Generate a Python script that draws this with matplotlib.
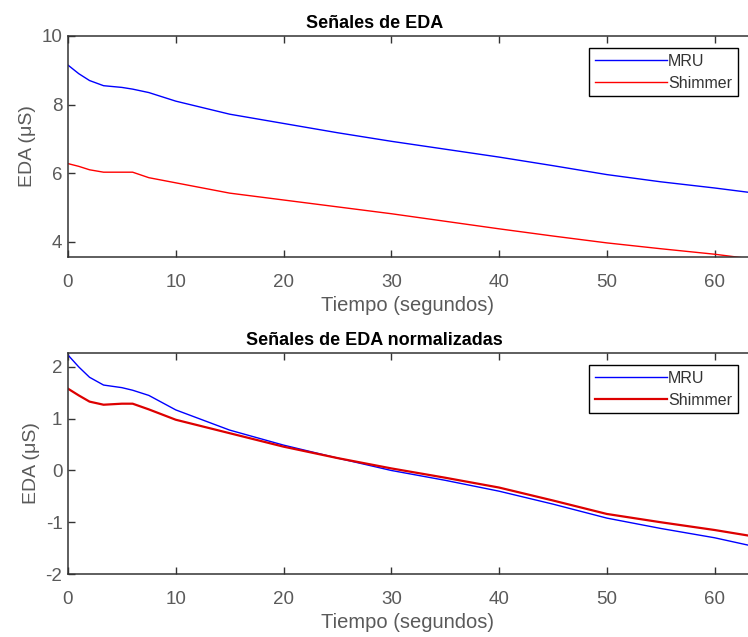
import matplotlib
matplotlib.use("Agg")
import matplotlib.pyplot as plt

plt.rcParams['font.family'] = ['Liberation Sans', 'DejaVu Sans']
plt.rcParams['axes.unicode_minus'] = False

# datos
tiempo = [0, 1, 2, 3.3, 5, 6, 7.5, 10, 15, 20, 25, 30, 35, 40, 45, 50, 55, 60, 63.5]
eda_mru = [9.15, 8.9, 8.7, 8.55, 8.5, 8.45, 8.35, 8.1, 7.72, 7.45, 7.18, 6.93, 6.7, 6.47, 6.22, 5.96, 5.75, 5.57, 5.43]
eda_shimmer = [6.28, 6.2, 6.1, 6.03, 6.03, 6.03, 5.87, 5.72, 5.42, 5.22, 5.02, 4.82, 4.6, 4.38, 4.17, 3.97, 3.8, 3.64, 3.5]
norm_mru = [2.23, 2.0, 1.8, 1.65, 1.6, 1.55, 1.45, 1.17, 0.78, 0.49, 0.24, 0.0, -0.19, -0.4, -0.65, -0.92, -1.12, -1.3, -1.46]
norm_shimmer = [1.58, 1.45, 1.33, 1.27, 1.29, 1.29, 1.18, 0.98, 0.72, 0.46, 0.24, 0.04, -0.14, -0.33, -0.58, -0.84, -1.0, -1.15, -1.27]

fig = plt.figure(figsize=(7.48, 6.37), dpi=100)
ax1 = fig.add_axes([0.0909, 0.5966, 0.9091, 0.347])
ax2 = fig.add_axes([0.0909, 0.0989, 0.9091, 0.347])

gris = '#5a5a5a'


def estilo(ax, titulo):
    ax.set_xlim(0, 63.1)
    ax.set_xticks([0, 10, 20, 30, 40, 50, 60])
    ax.tick_params(direction='in', top=True, right=False, labelsize=13.5,
                   colors='#333333', labelcolor=gris, length=5, width=1)
    ax.tick_params(axis='x', pad=12)
    ax.tick_params(axis='y', pad=4)
    ax.spines['right'].set_visible(False)
    for s in ['left', 'top', 'bottom']:
        ax.spines[s].set_color('#333333')
        ax.spines[s].set_linewidth(1.1)
    ax.set_xlabel('Tiempo (segundos)', fontsize=14.5, color=gris, labelpad=4)
    ax.set_ylabel('EDA (μS)', fontsize=14, color=gris, labelpad=4)
    ax.set_title(titulo, fontsize=13, fontweight='bold', pad=6, x=0.451)
    leg = ax.legend(loc='upper right', bbox_to_anchor=(0.985, 0.945), fontsize=11.5,
                    handlelength=4.5, handletextpad=0.1, borderpad=0.35,
                    borderaxespad=0, labelspacing=0.45, fancybox=False, framealpha=1)
    leg.get_frame().set_edgecolor('black')
    leg.get_frame().set_linewidth(1.0)
    for t in leg.get_texts():
        t.set_color('#333333')


ax1.plot(tiempo, eda_mru, color='blue', lw=1.0, label='MRU')
ax1.plot(tiempo, eda_shimmer, color='red', lw=1.0, label='Shimmer')
ax1.set_ylim(3.56, 10)
ax1.set_yticks([4, 6, 8, 10])
estilo(ax1, 'Señales de EDA')

ax2.plot(tiempo, norm_mru, color='blue', lw=1.0, label='MRU')
ax2.plot(tiempo, norm_shimmer, color='#dd0000', lw=1.6, label='Shimmer')
ax2.set_ylim(-2, 2.27)
ax2.set_yticks([-2, -1, 0, 1, 2])
estilo(ax2, 'Señales de EDA normalizadas')

fig.savefig('out.png', dpi=100)
